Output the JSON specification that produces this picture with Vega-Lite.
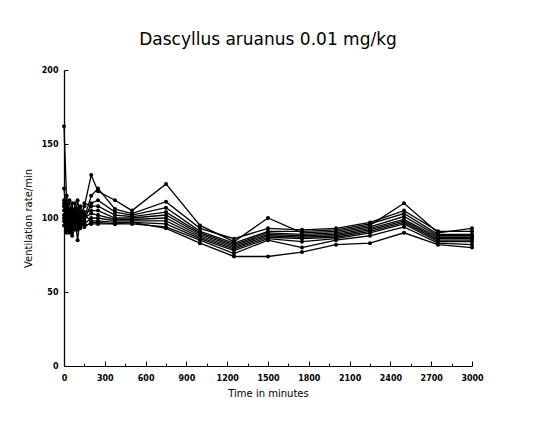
{
  "$schema": "https://vega.github.io/schema/vega-lite/v6.json",
  "width": 408,
  "height": 296,
  "autosize": {"type": "none"},
  "padding": {"left": 64, "top": 70, "right": 71, "bottom": 56},
  "background": "white",
  "title": {
    "text": "Dascyllus aruanus 0.01 mg/kg",
    "font": "DejaVu Sans",
    "fontSize": 17,
    "fontWeight": "normal",
    "color": "black",
    "anchor": "middle",
    "offset": 17
  },
  "data": {
    "values": [
      {"t": 0, "S1": 162, "S2": 120, "S3": 110, "S4": 105, "S5": 100, "S6": 98, "S7": 112, "S8": 95, "S9": 102, "S10": 108},
      {"t": 20, "S1": 110, "S2": 100, "S3": 95, "S4": 115, "S5": 105, "S6": 92, "S7": 100, "S8": 108, "S9": 96, "S10": 90},
      {"t": 40, "S1": 95, "S2": 112, "S3": 100, "S4": 98, "S5": 92, "S6": 106, "S7": 97, "S8": 90, "S9": 104, "S10": 100},
      {"t": 60, "S1": 105, "S2": 96, "S3": 90, "S4": 102, "S5": 98, "S6": 94, "S7": 110, "S8": 100, "S9": 88, "S10": 96},
      {"t": 80, "S1": 98, "S2": 104, "S3": 110, "S4": 94, "S5": 100, "S6": 96, "S7": 92, "S8": 97, "S9": 106, "S10": 93},
      {"t": 100, "S1": 112, "S2": 92, "S3": 95, "S4": 106, "S5": 85, "S6": 100, "S7": 98, "S8": 102, "S9": 94, "S10": 104},
      {"t": 120, "S1": 100, "S2": 108, "S3": 104, "S4": 96, "S5": 102, "S6": 95, "S7": 100, "S8": 93, "S9": 98, "S10": 97},
      {"t": 150, "S1": 108, "S2": 100, "S3": 98, "S4": 110, "S5": 104, "S6": 100, "S7": 96, "S8": 102, "S9": 95, "S10": 94},
      {"t": 200, "S1": 129, "S2": 115, "S3": 110, "S4": 108, "S5": 105, "S6": 103, "S7": 100, "S8": 98, "S9": 96, "S10": 97},
      {"t": 250, "S1": 118, "S2": 120, "S3": 112, "S4": 108, "S5": 105, "S6": 102, "S7": 100, "S8": 98, "S9": 96, "S10": 97},
      {"t": 375, "S1": 112, "S2": 106, "S3": 104, "S4": 102, "S5": 100, "S6": 99, "S7": 98, "S8": 97, "S9": 96, "S10": 96},
      {"t": 500, "S1": 105, "S2": 103, "S3": 102, "S4": 101, "S5": 100, "S6": 99, "S7": 98, "S8": 97, "S9": 96, "S10": 97},
      {"t": 750, "S1": 123, "S2": 111, "S3": 107, "S4": 104, "S5": 102, "S6": 100, "S7": 98, "S8": 96, "S9": 94, "S10": 93},
      {"t": 1000, "S1": 95, "S2": 93, "S3": 91, "S4": 90, "S5": 89, "S6": 88, "S7": 87, "S8": 86, "S9": 85, "S10": 83},
      {"t": 1250, "S1": 84, "S2": 86, "S3": 83, "S4": 82, "S5": 81, "S6": 80, "S7": 79, "S8": 78, "S9": 76, "S10": 74},
      {"t": 1500, "S1": 100, "S2": 93, "S3": 91, "S4": 90, "S5": 89, "S6": 88, "S7": 87, "S8": 86, "S9": 85, "S10": 74},
      {"t": 1750, "S1": 90, "S2": 92, "S3": 91, "S4": 89, "S5": 88, "S6": 87, "S7": 86, "S8": 84, "S9": 80, "S10": 77},
      {"t": 2000, "S1": 91, "S2": 93, "S3": 92, "S4": 90, "S5": 89, "S6": 88, "S7": 87, "S8": 86, "S9": 85, "S10": 82},
      {"t": 2250, "S1": 95, "S2": 97, "S3": 96, "S4": 94, "S5": 93, "S6": 92, "S7": 91, "S8": 90, "S9": 88, "S10": 83},
      {"t": 2500, "S1": 110, "S2": 105, "S3": 103, "S4": 101, "S5": 99, "S6": 98, "S7": 97, "S8": 96, "S9": 94, "S10": 90},
      {"t": 2750, "S1": 90, "S2": 91, "S3": 89, "S4": 88, "S5": 87, "S6": 86, "S7": 85, "S8": 84, "S9": 83, "S10": 82},
      {"t": 3000, "S1": 93, "S2": 91, "S3": 89, "S4": 88, "S5": 87, "S6": 86, "S7": 85, "S8": 84, "S9": 82, "S10": 80}
    ]
  },
  "transform": [
    {"fold": ["S1", "S2", "S3", "S4", "S5", "S6", "S7", "S8", "S9", "S10"], "as": ["fish", "rate"]}
  ],
  "encoding": {
    "x": {
      "field": "t",
      "type": "quantitative",
      "scale": {"domain": [0, 3000], "nice": false, "zero": true},
      "axis": {
        "title": "Time in minutes",
        "values": [0, 150, 300, 450, 600, 750, 900, 1050, 1200, 1350, 1500, 1650, 1800, 1950, 2100, 2250, 2400, 2550, 2700, 2850, 3000],
        "labelExpr": "datum.value % 300 === 0 ? datum.label : ''",
        "labelOverlap": false,
        "labelFlush": false,
        "format": "d",
        "grid": false,
        "tickSize": {"condition": {"test": "datum.value % 300 === 0", "value": -5}, "value": -3},
        "tickColor": "black",
        "domainColor": "black",
        "labelColor": "black",
        "titleColor": "black",
        "labelFont": "DejaVu Sans",
        "titleFont": "DejaVu Sans",
        "labelFontSize": 8,
        "labelFontWeight": "bold",
        "titleFontSize": 10,
        "titleFontWeight": "normal",
        "labelPadding": 13,
        "titlePadding": 4
      }
    },
    "y": {
      "field": "rate",
      "type": "quantitative",
      "scale": {"domain": [0, 200], "nice": false},
      "axis": {
        "title": "Ventilation rate/min",
        "values": [0, 50, 100, 150, 200],
        "labelFlush": false,
        "grid": false,
        "tickSize": -4,
        "tickColor": "black",
        "domainColor": "black",
        "domainWidth": 1.3,
        "labelColor": "black",
        "titleColor": "black",
        "labelFont": "DejaVu Sans",
        "titleFont": "DejaVu Sans",
        "labelFontSize": 8,
        "labelFontWeight": "bold",
        "titleFontSize": 10,
        "titleFontWeight": "normal",
        "labelPadding": 10,
        "titlePadding": 8
      }
    },
    "detail": {"field": "fish", "type": "nominal"}
  },
  "layer": [
    {"mark": {"type": "line", "color": "black", "strokeWidth": 1.3}},
    {"mark": {"type": "circle", "color": "black", "opacity": 1, "size": 16}}
  ],
  "config": {"view": {"stroke": null}}
}
